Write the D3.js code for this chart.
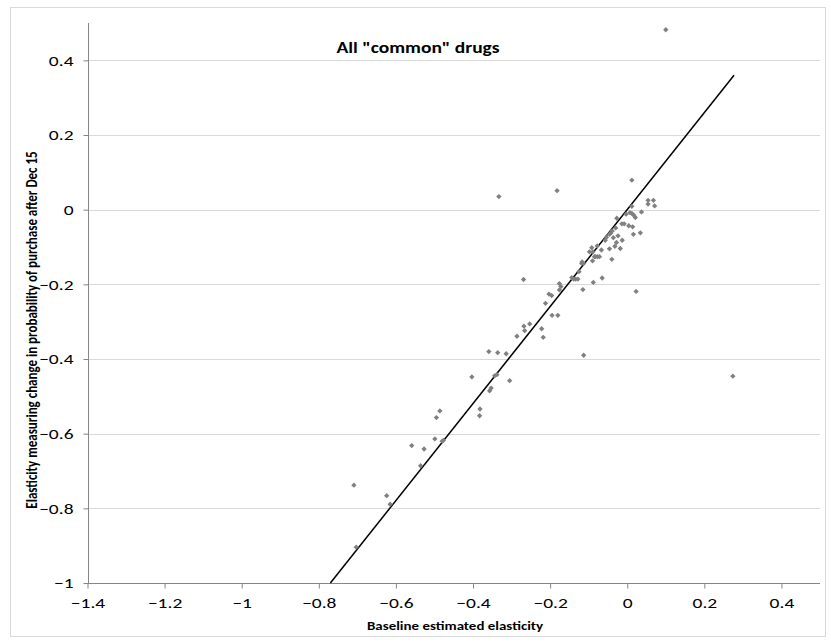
<!DOCTYPE html>
<html>
<head>
<meta charset="utf-8">
<script src="https://cdn.jsdelivr.net/npm/d3@7/dist/d3.min.js"></script>
<style>
  html, body { margin: 0; padding: 0; background: #fff; }
  svg { display: block; }
  text { font-family: Carlito, Calibri, Lato, "Open Sans", sans-serif; }
</style>
</head>
<body>
<svg id="chart" width="831" height="644"></svg>
<script>
// ---- data ----
const title = 'All "common" drugs';
const xTitle = "Baseline estimated elasticity";
const yTitle = "Elasticity measuring change in probability of purchase after Dec 15";

const xTicks = [-1.4, -1.2, -1, -0.8, -0.6, -0.4, -0.2, 0, 0.2, 0.4];
const yTicks = [-1, -0.8, -0.6, -0.4, -0.2, 0, 0.2, 0.4];

const baselineX = [
  0.100, 0.274, -0.709, -0.703, -0.624, -0.615, -0.559, -0.527, -0.536, -0.499,
  -0.477, -0.480, -0.495, -0.486, -0.403, -0.382, -0.383, -0.359, -0.336, -0.314,
  -0.357, -0.353, -0.344, -0.338, -0.305, -0.333, -0.182, -0.269, -0.286, -0.268,
  -0.253, -0.266, -0.222, -0.218, -0.212, -0.203, -0.196, -0.195, -0.180, -0.176,
  -0.172, -0.176, -0.113, -0.115, 0.023, 0.012, 0.054, 0.068, 0.054, 0.071,
  0.037, 0.034, 0.012, 0.007, 0.012, 0.017, 0.021, -0.003, -0.027, -0.014,
  -0.008, 0.004, 0.014, -0.030, -0.039, -0.043, -0.046, 0.016, -0.054, -0.057,
  -0.036, -0.024, -0.013, -0.028, -0.032, -0.018, -0.046, -0.067, -0.078, -0.092,
  -0.098, -0.089, -0.085, -0.082, -0.077, -0.072, -0.090, -0.040, -0.117, -0.113,
  -0.118, -0.125, -0.144, -0.139, -0.134, -0.128, -0.065, -0.088
];
const afterDecY = [
  0.482, -0.446, -0.738, -0.904, -0.766, -0.789, -0.632, -0.641, -0.686, -0.614,
  -0.618, -0.620, -0.557, -0.539, -0.448, -0.534, -0.552, -0.380, -0.383, -0.386,
  -0.485, -0.478, -0.445, -0.442, -0.458, 0.035, 0.051, -0.187, -0.339, -0.312,
  -0.306, -0.324, -0.319, -0.342, -0.251, -0.226, -0.230, -0.283, -0.283, -0.198,
  -0.206, -0.215, -0.390, -0.214, -0.219, 0.079, 0.025, 0.025, 0.015, 0.010,
  -0.006, -0.062, 0.009, -0.008, -0.010, -0.015, -0.021, -0.012, -0.023, -0.038,
  -0.038, -0.043, -0.046, -0.049, -0.057, -0.063, -0.066, -0.066, -0.074, -0.082,
  -0.075, -0.070, -0.082, -0.088, -0.098, -0.104, -0.105, -0.108, -0.097, -0.102,
  -0.113, -0.113, -0.126, -0.126, -0.126, -0.126, -0.137, -0.133, -0.140, -0.144,
  -0.144, -0.166, -0.182, -0.186, -0.186, -0.186, -0.183, -0.195
];
// fitted line endpoints
const fitX = [-0.770, 0.277];
const fitY = [-1.0, 0.360];

// ---- layout ----
const svg = d3.select("#chart");
const plot = { left: 87.5, right: 820, top: 23, bottom: 583 };
const stretch = 1.3; // reference text is horizontally stretched

const x = d3.scaleLinear().domain([-1.4, 0.5]).range([plot.left, plot.right]);
const y = d3.scaleLinear().domain([-1, 0.5]).range([plot.bottom, plot.top]);

// outer border
svg.append("rect")
  .attr("x", 10.5).attr("y", 7.5).attr("width", 815).attr("height", 629)
  .attr("fill", "#fff").attr("stroke", "#d9d9d9").attr("stroke-width", 1);

// gridlines
svg.append("g").selectAll("line")
  .data(yTicks.filter(t => t !== -1))
  .join("line")
  .attr("x1", plot.left).attr("x2", plot.right)
  .attr("y1", d => Math.round(y(d)) + 0.5).attr("y2", d => Math.round(y(d)) + 0.5)
  .attr("stroke", "#d9d9d9").attr("stroke-width", 1);

const fmt = d => d3.format("")(+d.toFixed(1));

// x axis
const xAxis = svg.append("g")
  .attr("transform", `translate(0,${Math.round(y(-1)) + 0.5})`)
  .call(d3.axisBottom(x).tickValues(xTicks).tickSize(5).tickPadding(9).tickFormat(fmt));
xAxis.select(".domain").attr("stroke", "#868686").attr("d", `M${plot.left},0H${plot.right}`);
xAxis.selectAll(".tick line").attr("stroke", "#868686");
xAxis.selectAll(".tick text").attr("font-size", 15).attr("fill", "#000")
  .attr("transform", `scale(${stretch},1)`)
  .style("font-family", "Carlito, Calibri, Lato, sans-serif");

// y axis
const yAxis = svg.append("g")
  .attr("transform", `translate(${Math.round(plot.left) + 0.5},0)`)
  .call(d3.axisLeft(y).tickValues(yTicks).tickSize(5).tickPadding(9).tickFormat(fmt));
yAxis.select(".domain").attr("stroke", "#868686").attr("d", `M0,${plot.top}V${Math.round(y(-1))}`);
yAxis.selectAll(".tick line").attr("stroke", "#868686");
yAxis.selectAll(".tick text").attr("font-size", 15).attr("fill", "#000")
  .attr("x", -15 / stretch)
  .attr("transform", `scale(${stretch},1)`)
  .style("font-family", "Carlito, Calibri, Lato, sans-serif");

// fitted line
const fitPts = fitX.map((v, i) => [v, fitY[i]]);
svg.append("path")
  .attr("d", d3.line().x(d => x(d[0])).y(d => y(d[1]))(fitPts))
  .attr("fill", "none").attr("stroke", "#000").attr("stroke-width", 1.5);

// points
const pts = baselineX.map((v, i) => [v, afterDecY[i]]);
const sym = d3.symbol().type(d3.symbolDiamond2).size(18);
svg.append("g").selectAll("path")
  .data(pts)
  .join("path")
  .attr("transform", d => `translate(${x(d[0])},${y(d[1])})`)
  .attr("d", sym)
  .attr("fill", "#808080");

// title
svg.append("text")
  .attr("transform", `translate(418,53) scale(${stretch},1)`)
  .attr("text-anchor", "middle")
  .attr("font-size", 15).attr("font-weight", "bold").attr("fill", "#000")
  .text(title);

// axis titles
svg.append("text")
  .attr("transform", `translate(455,630) scale(${stretch},1)`)
  .attr("text-anchor", "middle")
  .attr("font-size", 11.5).attr("font-weight", "bold").attr("fill", "#000")
  .text(xTitle);

svg.append("text")
  .attr("transform", `translate(37,330) rotate(-90) scale(1,${stretch})`)
  .attr("text-anchor", "middle")
  .attr("font-size", 13).attr("font-weight", "bold").attr("fill", "#000")
  .text(yTitle);
</script>
</body>
</html>
